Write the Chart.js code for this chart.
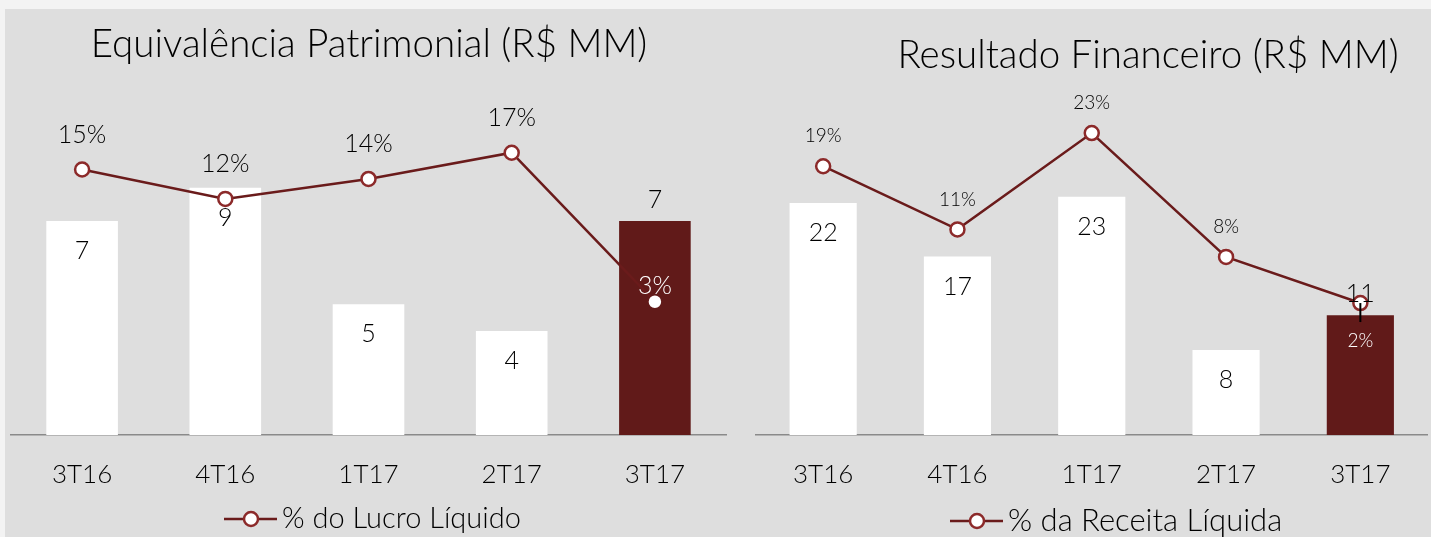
<!DOCTYPE html>
<html>
<head>
<meta charset="utf-8">
<script src="https://cdn.jsdelivr.net/npm/chart.js@4/dist/chart.umd.min.js"></script>
<style>
  html, body { margin: 0; padding: 0; }
  body { width: 1431px; height: 537px; background: #dedede; position: relative; overflow: hidden; }
  #topStrip { position: absolute; left: 0; top: 0; width: 1431px; height: 9px; background: #f3f3f3; }
  #leftStrip { position: absolute; left: 0; top: 0; width: 5px; height: 537px; background: #f3f3f3; }
  canvas { position: absolute; top: 0; }
  #equivChart { left: 0; }
  #finChart { left: 730px; }
</style>
</head>
<body>
<div id="topStrip"></div>
<div id="leftStrip"></div>
<canvas id="equivChart" width="736" height="537"></canvas>
<canvas id="finChart" width="707" height="537"></canvas>
<script>
// ── Data ──────────────────────────────────────────────
const categories = ['3T16', '4T16', '1T17', '2T17', '3T17'];

const equivValues = [7.4, 8.55, 4.52, 3.6, 7.4];      // R$ MM
const equivPct    = [15.2, 12.4, 14.3, 16.8, 2.6];    // % do Lucro Líquido

const finValues = [22.1, 17.0, 22.7, 8.1, 11.4];      // R$ MM
const finPct    = [19.0, 11.2, 23.1, 7.8, 2.1];       // % da Receita Líquida

const FONT = 'Lato';
const WEIGHT = '300';
const DARK = '#611a19';
const LINE = '#6a1b1b';
const TEXT = '#000000';

const barColors = categories.map((_, i) => i === categories.length - 1 ? DARK : '#ffffff');

const font = size => WEIGHT + ' ' + size + 'px ' + FONT;

// ── Labels, title and legend drawn on the canvas ─────
const annotate = {
  id: 'annotate',
  afterDatasetsDraw(chart, args, o) {
    const ctx = chart.ctx;
    const last = categories.length - 1;
    const bars = chart.getDatasetMeta(0).data;
    const pts = chart.getDatasetMeta(1).data;
    const barData = chart.data.datasets[0].data;
    const pctData = chart.data.datasets[1].data;
    ctx.save();
    ctx.textAlign = 'center';
    ctx.textBaseline = 'middle';

    // bar values
    ctx.font = font(o.barSize);
    ctx.fillStyle = TEXT;
    bars.forEach((bar, i) => {
      const y = i === last ? bar.y - 21 : bar.y + 30;
      ctx.fillText(String(Math.round(barData[i])), bar.x, y);
    });

    // leader line on last point
    if (o.leader) {
      const p = pts[last];
      ctx.strokeStyle = '#000';
      ctx.lineWidth = 2;
      ctx.beginPath();
      ctx.moveTo(p.x, p.y);
      ctx.lineTo(p.x, p.y + o.leader);
      ctx.stroke();
    }

    // percentage labels
    ctx.font = font(o.pctSize);
    pts.forEach((p, i) => {
      const txt = Math.round(pctData[i]) + '%';
      if (i === last) {
        ctx.fillStyle = '#ffffff';
        ctx.fillText(txt, p.x, p.y + o.lastDy);
      } else {
        ctx.fillStyle = TEXT;
        ctx.fillText(txt, p.x, p.y - o.pctDy);
      }
    });

    // title
    ctx.font = font(o.titleSize);
    ctx.fillStyle = TEXT;
    ctx.textBaseline = 'alphabetic';
    ctx.fillText(o.title, o.titleX, o.titleY);

    // legend: line with open marker
    const lx = o.legendX, ly = o.legendY;
    ctx.strokeStyle = LINE;
    ctx.lineWidth = 2.5;
    ctx.beginPath();
    ctx.moveTo(lx, ly);
    ctx.lineTo(lx + 53, ly);
    ctx.stroke();
    ctx.beginPath();
    ctx.arc(lx + 27, ly, 7, 0, Math.PI * 2);
    ctx.fillStyle = '#fff';
    ctx.fill();
    ctx.strokeStyle = '#8c2a2a';
    ctx.stroke();
    ctx.font = font(o.legendSize);
    ctx.fillStyle = TEXT;
    ctx.textAlign = 'left';
    ctx.textBaseline = 'middle';
    ctx.fillText(o.legendText, lx + 58, ly);
    ctx.restore();
  }
};

function build(id, values, pct, yMax, y2Min, y2Max, pad, ann, lastPointColor, lastPointRadius) {
  const ctx = document.getElementById(id).getContext('2d');
  const last = categories.length - 1;
  return new Chart(ctx, {
    type: 'bar',
    data: {
      labels: categories,
      datasets: [
        {
          label: 'R$ MM',
          data: values,
          yAxisID: 'y',
          backgroundColor: barColors,
          borderWidth: 0,
          barPercentage: 0.5,
          categoryPercentage: 1,
          order: 2
        },
        {
          type: 'line',
          label: ann.legendText,
          data: pct,
          yAxisID: 'y2',
          borderColor: LINE,
          borderWidth: 2.5,
          pointRadius: categories.map((_, i) => i === last ? lastPointRadius : 7),
          pointBorderWidth: 2.5,
          pointBackgroundColor: '#ffffff',
          pointBorderColor: categories.map((_, i) => i === last ? lastPointColor : '#8c2a2a'),
          tension: 0,
          order: 1
        }
      ]
    },
    options: {
      responsive: false,
      devicePixelRatio: 1,
      animation: false,
      layout: { padding: pad },
      plugins: {
        legend: { display: false },
        tooltip: { enabled: false },
        annotate: ann
      },
      scales: {
        x: {
          grid: { display: false },
          border: { display: true, color: '#8a8a8a', width: 1.5 },
          ticks: { color: TEXT, font: { family: FONT, size: 26, weight: WEIGHT }, padding: 16 },
          afterFit(scale) { scale.height = 102; }
        },
        y: { display: false, min: 0, max: yMax },
        y2: { display: false, min: y2Min, max: y2Max }
      }
    },
    plugins: [annotate]
  });
}

build('equivChart', equivValues, equivPct, 11.76, -10.1, 22.3,
  { top: 95, left: 10.5, right: 4.5, bottom: 0 },
  {
    title: 'Equivalência Patrimonial (R$ MM)', titleX: 369, titleY: 57, titleSize: 38.5,
    barSize: 25, pctSize: 25, pctDy: 35, lastDy: -16, leader: 0,
    legendText: '% do Lucro Líquido', legendX: 224, legendY: 519, legendSize: 29
  }, '#ffffff', 5);

build('finChart', finValues, finPct, 32.4, -14.2, 27.8,
  { top: 95, left: 26, right: 3, bottom: 0 },
  {
    title: 'Resultado Financeiro (R$ MM)', titleX: 418, titleY: 68, titleSize: 38.5,
    barSize: 25, pctSize: 19, pctDy: 30, lastDy: 38, leader: 19,
    legendText: '% da Receita Líquida', legendX: 220, legendY: 521, legendSize: 31
  }, '#8c2a2a', 7);
</script>
</body>
</html>
